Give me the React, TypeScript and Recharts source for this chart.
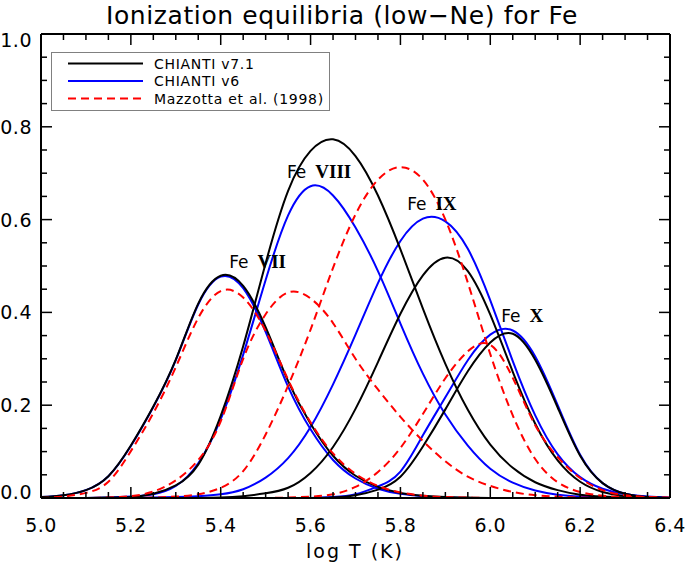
import React from 'react';
import { LineChart, Line, XAxis, YAxis, ReferenceDot } from 'recharts';

// log T grid (K)
const logT = [
  5.0, 5.05, 5.1, 5.15, 5.2, 5.25, 5.3, 5.35, 5.4, 5.45, 5.5, 5.55, 5.6, 5.65, 5.7,
  5.75, 5.8, 5.85, 5.9, 5.95, 6.0, 6.05, 6.1, 6.15, 6.2, 6.25, 6.3, 6.35, 6.4,
];

// Fe VII
const feVII_v71 = [0.002, 0.006, 0.017, 0.047, 0.113, 0.197, 0.298, 0.419, 0.479, 0.457, 0.368, 0.252, 0.160, 0.091, 0.048, 0.024, 0.011, 0.005, 0.002, 0.001, 0, 0, 0, 0, 0, 0, 0, 0, 0];
const feVII_v6 = [0.002, 0.006, 0.017, 0.047, 0.112, 0.196, 0.297, 0.417, 0.477, 0.452, 0.358, 0.240, 0.148, 0.082, 0.042, 0.020, 0.009, 0.004, 0.001, 0, 0, 0, 0, 0, 0, 0, 0, 0, 0];
const feVII_mz = [0, 0.003, 0.011, 0.035, 0.101, 0.183, 0.282, 0.388, 0.446, 0.432, 0.360, 0.255, 0.163, 0.096, 0.052, 0.026, 0.012, 0.005, 0.002, 0.001, 0, 0, 0, 0, 0, 0, 0, 0, 0];

// Fe VIII
const feVIII_v71 = [0, 0, 0, 0.001, 0.002, 0.009, 0.027, 0.072, 0.177, 0.327, 0.506, 0.662, 0.748, 0.773, 0.737, 0.652, 0.536, 0.408, 0.289, 0.190, 0.115, 0.065, 0.034, 0.017, 0.007, 0.003, 0.001, 0, 0];
const feVIII_v6 = [0, 0, 0, 0.001, 0.003, 0.008, 0.026, 0.075, 0.170, 0.309, 0.470, 0.609, 0.672, 0.652, 0.583, 0.489, 0.376, 0.268, 0.180, 0.113, 0.063, 0.033, 0.016, 0.007, 0.003, 0.001, 0, 0, 0];
const feVIII_mz = [0, 0, 0, 0.001, 0.004, 0.014, 0.038, 0.082, 0.165, 0.300, 0.396, 0.443, 0.430, 0.377, 0.300, 0.234, 0.175, 0.123, 0.079, 0.046, 0.026, 0.013, 0.006, 0.003, 0.001, 0, 0, 0, 0];

// Fe IX
const feIX_v71 = [0, 0, 0, 0, 0, 0, 0, 0, 0.001, 0.004, 0.010, 0.022, 0.054, 0.110, 0.192, 0.293, 0.397, 0.480, 0.518, 0.489, 0.395, 0.272, 0.160, 0.081, 0.035, 0.013, 0.004, 0.001, 0];
const feIX_v6 = [0, 0, 0, 0, 0, 0.001, 0.002, 0.004, 0.008, 0.019, 0.044, 0.086, 0.153, 0.245, 0.352, 0.463, 0.554, 0.602, 0.596, 0.537, 0.426, 0.295, 0.178, 0.094, 0.045, 0.020, 0.008, 0.003, 0.001];
const feIX_mz = [0, 0, 0, 0, 0, 0.001, 0.003, 0.008, 0.022, 0.058, 0.137, 0.242, 0.363, 0.496, 0.611, 0.686, 0.713, 0.686, 0.600, 0.464, 0.310, 0.178, 0.084, 0.034, 0.013, 0.005, 0.002, 0.001, 0];

// Fe X
const feX_v71 = [0, 0, 0, 0, 0, 0, 0, 0, 0, 0, 0, 0, 0, 0.001, 0.006, 0.018, 0.046, 0.111, 0.191, 0.273, 0.335, 0.354, 0.298, 0.195, 0.091, 0.032, 0.009, 0.002, 0];
const feX_v6 = [0, 0, 0, 0, 0, 0, 0, 0, 0, 0, 0, 0, 0, 0.002, 0.008, 0.025, 0.057, 0.135, 0.217, 0.297, 0.352, 0.361, 0.305, 0.200, 0.093, 0.032, 0.009, 0.002, 0];
const feX_mz = [0, 0, 0, 0, 0, 0, 0, 0, 0, 0, 0, 0.001, 0.003, 0.008, 0.024, 0.056, 0.108, 0.181, 0.258, 0.316, 0.330, 0.259, 0.157, 0.088, 0.043, 0.017, 0.006, 0.002, 0.001];

const xMajor = [5.0, 5.2, 5.4, 5.6, 5.8, 6.0, 6.2, 6.4];
const yMajor = [0, 0.2, 0.4, 0.6, 0.8, 1.0];
const xTicks = Array.from({ length: 29 }, (_, i) => +(5 + i * 0.05).toFixed(2));
const yTicks = Array.from({ length: 21 }, (_, i) => +(i * 0.05).toFixed(2));

const BLUE = '#0000ff';
const BLACK = '#000000';
const RED = '#ff0000';
const DASH = '8 5';
const SANS = '"DejaVu Sans", sans-serif';
const SERIF = '"Liberation Serif", serif';

// drawn in this order: blue, black, red on top
const series = [
  { key: 'b7', values: feVII_v6, color: BLUE },
  { key: 'b8', values: feVIII_v6, color: BLUE },
  { key: 'b9', values: feIX_v6, color: BLUE },
  { key: 'b10', values: feX_v6, color: BLUE },
  { key: 'k7', values: feVII_v71, color: BLACK },
  { key: 'k8', values: feVIII_v71, color: BLACK },
  { key: 'k9', values: feIX_v71, color: BLACK },
  { key: 'k10', values: feX_v71, color: BLACK },
  { key: 'r7', values: feVII_mz, color: RED, dash: DASH },
  { key: 'r8', values: feVIII_mz, color: RED, dash: DASH },
  { key: 'r9', values: feIX_mz, color: RED, dash: DASH },
  { key: 'r10', values: feX_mz, color: RED, dash: DASH },
];

const legendItems = [
  { label: 'CHIANTI v7.1', color: BLACK },
  { label: 'CHIANTI v6', color: BLUE },
  { label: 'Mazzotta et al. (1998)', color: RED, dash: DASH },
];

const ionLabels = [
  { ion: 'VII', t: 5.482, v: 0.496 },
  { ion: 'VIII', t: 5.619, v: 0.69 },
  { ion: 'IX', t: 5.87, v: 0.621 },
  { ion: 'X', t: 6.071, v: 0.379 },
];

const rows = logT.map((t, i) => {
  const row: Record<string, number> = { t };
  series.forEach(s => { row[s.key] = s.values[i]; });
  return row;
});

const isMajor = (v: number, list: number[]) => list.some(m => Math.abs(m - v) < 1e-6);

function BottomTick({ x, y, payload }: any) {
  const major = isMajor(payload.value, xMajor);
  return (
    <g>
      <line x1={x} y1={y} x2={x} y2={y - (major ? 11 : 6)} stroke="#000" strokeWidth={1.5} />
      {major && (
        <text x={x} y={y + 34} textAnchor="middle" fontFamily={SANS} fontSize={19} fill="#000" letterSpacing={0.5}>
          {payload.value.toFixed(1)}
        </text>
      )}
    </g>
  );
}

function TopTick({ x, y, payload }: any) {
  const major = isMajor(payload.value, xMajor);
  return <line x1={x} y1={y} x2={x} y2={y + (major ? 11 : 6)} stroke="#000" strokeWidth={1.5} />;
}

function LeftTick({ x, y, payload }: any) {
  const major = isMajor(payload.value, yMajor);
  const shift = payload.value === 0 ? 1 : payload.value === 1 ? 13 : 7;
  return (
    <g>
      <line x1={x} y1={y} x2={x + (major ? 11 : 6)} y2={y} stroke="#000" strokeWidth={1.5} />
      {major && (
        <text x={x - 9} y={y + shift} textAnchor="end" fontFamily={SANS} fontSize={19} fill="#000" letterSpacing={0.5}>
          {payload.value.toFixed(1)}
        </text>
      )}
    </g>
  );
}

function RightTick({ x, y, payload }: any) {
  const major = isMajor(payload.value, yMajor);
  return <line x1={x} y1={y} x2={x - (major ? 11 : 6)} y2={y} stroke="#000" strokeWidth={1.5} />;
}

function IonLabel({ cx, cy, ion }: any) {
  return (
    <text x={cx} y={cy} textAnchor="middle" fill="#000">
      <tspan fontFamily={SANS} fontSize={17}>Fe</tspan>
      <tspan dx={9} fontFamily={SERIF} fontSize={19} fontWeight="bold">{ion}</tspan>
    </text>
  );
}

const axisLine = { stroke: '#000', strokeWidth: 2 };

export default function App() {
  return (
    <div style={{ position: 'absolute', left: 0, top: 0, width: 685, height: 564, background: '#fff' }}>
      <LineChart width={685} height={564} data={rows} margin={{ top: 0, right: 0, bottom: 0, left: 0 }}>
        <XAxis
          dataKey="t"
          type="number"
          domain={[5, 6.4]}
          ticks={xTicks}
          interval={0}
          height={66}
          tickSize={0}
          tickMargin={0}
          tickLine={false}
          axisLine={axisLine}
          tick={(p: any) => <BottomTick {...p} />}
          allowDataOverflow
        />
        <XAxis
          xAxisId="top"
          orientation="top"
          dataKey="t"
          type="number"
          domain={[5, 6.4]}
          ticks={xTicks}
          interval={0}
          height={34}
          tickSize={0}
          tickMargin={0}
          tickLine={false}
          axisLine={axisLine}
          tick={(p: any) => <TopTick {...p} />}
          allowDataOverflow
        />
        <YAxis
          type="number"
          domain={[0, 1]}
          ticks={yTicks}
          interval={0}
          width={41}
          tickSize={0}
          tickMargin={0}
          tickLine={false}
          axisLine={axisLine}
          tick={(p: any) => <LeftTick {...p} />}
          allowDataOverflow
        />
        <YAxis
          yAxisId="right"
          orientation="right"
          type="number"
          domain={[0, 1]}
          ticks={yTicks}
          interval={0}
          width={15}
          tickSize={0}
          tickMargin={0}
          tickLine={false}
          axisLine={axisLine}
          tick={(p: any) => <RightTick {...p} />}
          allowDataOverflow
        />
        {series.map(s => (
          <Line
            key={s.key}
            dataKey={s.key}
            type="natural"
            stroke={s.color}
            strokeWidth={2}
            strokeDasharray={s.dash}
            dot={false}
            activeDot={false}
            isAnimationActive={false}
          />
        ))}
        {ionLabels.map(l => (
          <ReferenceDot
            key={l.ion}
            x={l.t}
            y={l.v}
            r={0}
            shape={(p: any) => <IonLabel cx={p.cx} cy={p.cy} ion={l.ion} />}
          />
        ))}
      </LineChart>
      <svg width={685} height={564} style={{ position: 'absolute', left: 0, top: 0, pointerEvents: 'none' }}>
        <text x={342} y={24} textAnchor="middle" fontFamily={SANS} fontSize={25} letterSpacing={0.6} fill="#000">
          Ionization equilibria (low−Ne) for Fe
        </text>
        <text x={355} y={558} textAnchor="middle" fontFamily={SANS} fontSize={19} letterSpacing={2} fill="#000">
          log T (K)
        </text>
        <rect x={51.5} y={52.5} width={278} height={58} fill="#fff" stroke="#808080" strokeWidth={1} />
        {legendItems.map((item, i) => {
          const cy = 63.5 + i * 17.5;
          return (
            <g key={item.label}>
              <line x1={68} y1={cy} x2={143} y2={cy} stroke={item.color} strokeWidth={2} strokeDasharray={item.dash} />
              <text x={154} y={cy + 5} fontFamily={SANS} fontSize={14} letterSpacing={0.7} fill="#000">
                {item.label}
              </text>
            </g>
          );
        })}
      </svg>
    </div>
  );
}
